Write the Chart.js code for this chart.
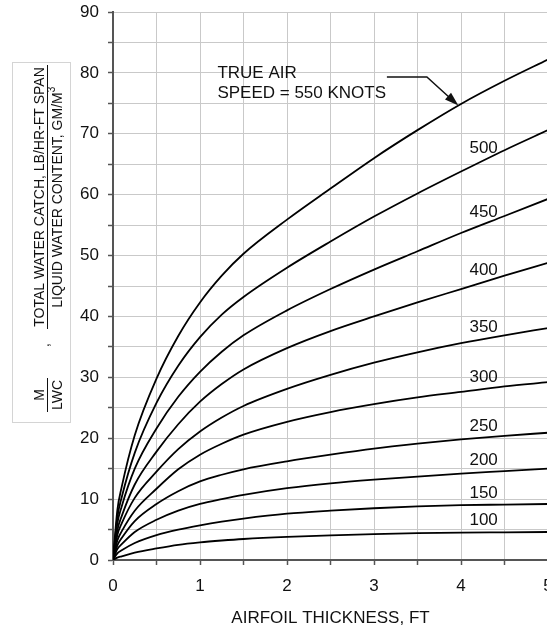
<!DOCTYPE html>
<html>
<head>
<meta charset="utf-8">
<script src="https://cdn.jsdelivr.net/npm/chart.js@4.4.1/dist/chart.umd.min.js"></script>
<style>
  html, body { margin: 0; padding: 0; background: #fff; overflow: hidden; }
  #catchChart { display: block; }
</style>
</head>
<body>
<canvas id="catchChart" width="560" height="630"></canvas>
<script>
// Espessura do aerofólio (ft) - pontos amostrados ao longo de cada curva
const thickness = [0, 0.05, 0.1, 0.25, 0.5, 0.75, 1, 1.25, 1.5, 2, 2.5, 3, 3.5, 4, 4.5, 5];

// Velocidade verdadeira (knots) de cada curva
const speeds = [550, 500, 450, 400, 350, 300, 250, 200, 150, 100];

// M/LWC para cada velocidade
const catch550 = [0, 8.2, 12.0, 20.5, 29.8, 36.8, 42.3, 46.7, 50.3, 55.9, 61.0, 66.0, 70.6, 74.9, 78.7, 82.2];
const catch500 = [0, 7.0, 10.3, 17.6, 25.8, 31.9, 36.6, 40.3, 43.2, 48.0, 52.3, 56.4, 60.2, 63.8, 67.3, 70.6];
const catch450 = [0, 6.0, 8.8, 15.0, 21.6, 26.8, 30.9, 34.2, 36.9, 41.0, 44.5, 47.7, 50.7, 53.7, 56.5, 59.3];
const catch400 = [0, 4.9, 7.2, 12.4, 17.8, 22.3, 26.0, 28.9, 31.3, 34.8, 37.6, 40.0, 42.3, 44.5, 46.7, 48.8];
const catch350 = [0, 4.1, 6.0, 10.2, 14.5, 18.2, 21.1, 23.4, 25.3, 28.1, 30.4, 32.4, 34.1, 35.6, 36.9, 38.1];
const catch300 = [0, 3.2, 4.7, 8.1, 11.7, 14.9, 17.3, 19.1, 20.6, 22.7, 24.3, 25.6, 26.7, 27.6, 28.5, 29.2];
const catch250 = [0, 2.4, 3.6, 6.4, 9.2, 11.3, 12.9, 14.0, 14.9, 16.2, 17.3, 18.3, 19.1, 19.8, 20.4, 20.9];
const catch200 = [0, 1.8, 2.6, 4.6, 6.6, 8.1, 9.2, 10.0, 10.7, 11.8, 12.6, 13.2, 13.7, 14.2, 14.6, 15.0];
const catch150 = [0, 1.1, 1.6, 2.8, 4.1, 5.0, 5.7, 6.3, 6.8, 7.6, 8.1, 8.5, 8.8, 9.0, 9.1, 9.2];
const catch100 = [0, 0.4, 0.6, 1.2, 1.9, 2.5, 2.9, 3.2, 3.45, 3.8, 4.05, 4.25, 4.4, 4.5, 4.55, 4.6];

const curves = [catch550, catch500, catch450, catch400, catch350,
                catch300, catch250, catch200, catch150, catch100];

const FONT = '"Liberation Sans", Arial, sans-serif';
Chart.defaults.font.family = FONT;
Chart.defaults.color = '#111';

// valor da curva numa espessura qualquer (interpolação linear)
function valueAt(values, t) {
    for (let i = 1; i < thickness.length; i++) {
        if (t <= thickness[i]) {
            const f = (t - thickness[i - 1]) / (thickness[i] - thickness[i - 1]);
            return values[i - 1] + f * (values[i] - values[i - 1]);
        }
    }
    return values[values.length - 1];
}

// Rótulos das curvas, seta do 550 e título do eixo Y (em caixa)
const annotations = {
    id: 'annotations',
    afterDraw(chart) {
        const { ctx, scales: { x, y } } = chart;
        ctx.save();
        ctx.fillStyle = '#111';
        ctx.strokeStyle = '#111';

        // números sobre as curvas
        ctx.font = '17px ' + FONT;
        ctx.textAlign = 'center';
        ctx.textBaseline = 'alphabetic';
        const labelX = 4.26;
        speeds.forEach((s, i) => {
            if (s === 550) return;
            const v = valueAt(curves[i], labelX);
            ctx.fillText(String(s), x.getPixelForValue(labelX), y.getPixelForValue(v) - 7);
        });

        // seta apontando para a curva de 550
        const tipT = 3.97;
        const tx = x.getPixelForValue(tipT);
        const ty = y.getPixelForValue(valueAt(catch550, tipT));
        const ex = tx - 31.5, ey = ty - 28.5;
        ctx.lineWidth = 1.5;
        ctx.beginPath();
        ctx.moveTo(ex - 40, ey);
        ctx.lineTo(ex, ey);
        ctx.lineTo(tx - 7, ty - 6.3);
        ctx.stroke();
        const ang = Math.atan2(ty - ey, tx - ex);
        ctx.beginPath();
        ctx.moveTo(tx, ty);
        ctx.lineTo(tx - 14 * Math.cos(ang) + 4.5 * Math.sin(ang), ty - 14 * Math.sin(ang) - 4.5 * Math.cos(ang));
        ctx.lineTo(tx - 14 * Math.cos(ang) - 4.5 * Math.sin(ang), ty - 14 * Math.sin(ang) + 4.5 * Math.cos(ang));
        ctx.closePath();
        ctx.fill();

        ctx.textAlign = 'left';
        ctx.fillText('TRUE AIR', tx - 241, ty - 28);
        ctx.fillText('SPEED = 550 KNOTS', tx - 241, ty - 8);

        // título do eixo Y
        ctx.strokeStyle = '#d4d4d4';
        ctx.lineWidth = 1;
        ctx.strokeRect(12.5, 62.5, 58, 360);

        ctx.strokeStyle = '#111';
        ctx.fillStyle = '#111';
        ctx.lineWidth = 1;
        ctx.font = '14px ' + FONT;
        ctx.rotate(-Math.PI / 2);
        ctx.textAlign = 'center';

        // M / LWC
        const mid = 395;
        ctx.fillText('M', -mid, 44);
        ctx.fillText('LWC', -mid, 62);
        ctx.beginPath();
        ctx.moveTo(-mid - 17, 47.5);
        ctx.lineTo(-mid + 17, 47.5);
        ctx.stroke();
        ctx.fillText(',', -345, 49);

        // fração principal
        const c = 197;
        ctx.fillText('TOTAL WATER CATCH, LB/HR-FT SPAN', -c, 44);
        const den = 'LIQUID WATER CONTENT, GM/M';
        const dw = ctx.measureText(den).width;
        ctx.textAlign = 'left';
        ctx.fillText(den, -c - dw / 2 - 3, 62);
        ctx.font = '10px ' + FONT;
        ctx.fillText('3', -c + dw / 2 - 3, 55);
        ctx.beginPath();
        ctx.moveTo(-329, 47.5);
        ctx.lineTo(-65, 47.5);
        ctx.stroke();

        ctx.restore();
    }
};

const ctxCatch = document.getElementById('catchChart').getContext('2d');

const catchChart = new Chart(ctxCatch, {
    type: 'line',
    data: {
        datasets: speeds.map((s, i) => ({
            label: s + ' KNOTS',
            data: thickness.map((t, j) => ({ x: t, y: curves[i][j] })),
            borderColor: '#000',
            borderWidth: 1.8,
            pointRadius: 0,
            fill: false,
            cubicInterpolationMode: 'monotone'
        }))
    },
    options: {
        responsive: false,
        animation: false,
        devicePixelRatio: 1,
        layout: { padding: { top: 12, right: 12, left: 0, bottom: 0 } },
        plugins: {
            legend: { display: false },
            tooltip: { enabled: false }
        },
        scales: {
            x: {
                type: 'linear',
                min: 0,
                max: 5,
                // altura fixa e sem folga extra para o último rótulo
                afterFit: s => { s.height = 70; s.paddingLeft = 0; s.paddingRight = 0; },
                grid: { color: '#c9c9c9', tickColor: '#555', tickLength: 5, tickWidth: 1.5 },
                border: { color: '#555', width: 2 },
                ticks: {
                    stepSize: 0.5,
                    padding: 11,
                    font: { size: 17 },
                    color: '#111',
                    maxRotation: 0,
                    autoSkip: false,
                    callback: v => (Number.isInteger(v) ? v : '')
                },
                title: {
                    display: true,
                    text: 'AIRFOIL THICKNESS, FT',
                    font: { size: 17 },
                    color: '#111',
                    padding: { top: 0, bottom: 1 }
                }
            },
            y: {
                min: 0,
                max: 90,
                afterFit: s => { s.width = 113; s.paddingTop = 0; s.paddingBottom = 0; },
                grid: { color: '#c9c9c9', tickColor: '#555', tickLength: 5, tickWidth: 1.5 },
                border: { color: '#555', width: 2 },
                ticks: {
                    stepSize: 5,
                    padding: 9,
                    font: { size: 17 },
                    color: '#111',
                    autoSkip: false,
                    callback: v => (v % 10 === 0 ? v : '')
                }
            }
        }
    },
    plugins: [annotations]
});
</script>
</body>
</html>
